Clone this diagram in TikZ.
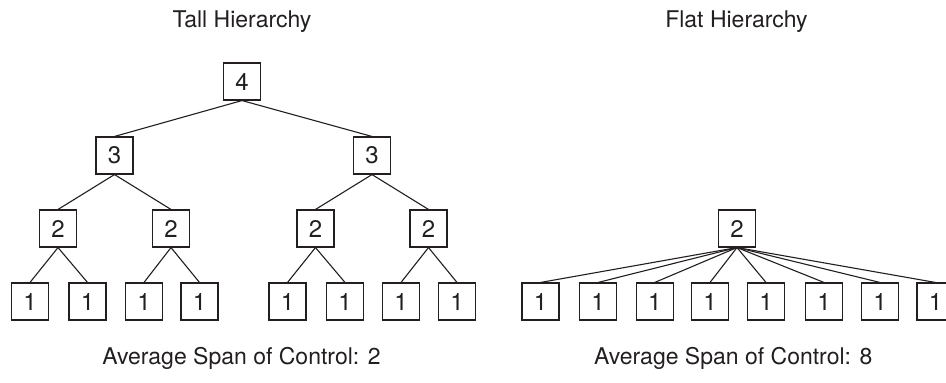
\documentclass[tikz,border=0pt]{standalone}
\usepackage{fontspec}
\setmainfont{TeX Gyre Heros}
\definecolor{ink}{HTML}{231F20}
\begin{document}
\begin{tikzpicture}[x=1pt,y=-1pt,
  box/.style={draw=ink,line width=1.1pt,minimum width=37pt,minimum height=37pt,inner sep=0pt,text=ink,font=\fontsize{24}{26}\selectfont},
  lbl/.style={anchor=base,text=ink,inner sep=0pt,font=\fontsize{23}{26}\selectfont},
  edge/.style={draw=ink,line width=1.1pt}]
\clip (0,0) rectangle (946,383);
\fill[white] (0,0) rectangle (946,383);
% titles
\node[lbl] (t1) at (242,27) {Tall Hierarchy};
\node[lbl] (t2) at (736.5,27) {Flat Hierarchy};
\node[lbl] (b1) at (241.5,364) {Average Span of Control: 2};
\node[lbl] (b2) at (733.3,364) {Average Span of Control: 8};
% tall
\node[box] (L4) at (242,81.5) {4};
\node[box] (L3a) at (114.5,155.5) {3};
\node[box] (L3b) at (372,155.5) {3};
\node[box] (L2a) at (58,228.5) {2};
\node[box] (L2b) at (171,228.5) {2};
\node[box] (L2c) at (315.5,228.5) {2};
\node[box] (L2d) at (428.5,228.5) {2};
\foreach \n/\x in {a/30,b/87.5,c/144,d/199.5,e/287.5,f/345,g/401,h/457}
  \node[box] (L1\n) at (\x,301.5) {1};
\draw[edge] (L4.south) -- (L3a.north);
\draw[edge] (L4.south) -- (L3b.north);
\draw[edge] (L3a.south) -- (L2a.north);
\draw[edge] (L3a.south) -- (L2b.north);
\draw[edge] (L3b.south) -- (L2c.north);
\draw[edge] (L3b.south) -- (L2d.north);
\draw[edge] (L2a.south) -- (L1a.north);
\draw[edge] (L2a.south) -- (L1b.north);
\draw[edge] (L2b.south) -- (L1c.north);
\draw[edge] (L2b.south) -- (L1d.north);
\draw[edge] (L2c.south) -- (L1e.north);
\draw[edge] (L2c.south) -- (L1f.north);
\draw[edge] (L2d.south) -- (L1g.north);
\draw[edge] (L2d.south) -- (L1h.north);
% flat
\node[box] (F2) at (737,228.5) {2};
\foreach \n/\x in {a/540.5,b/598,c/654.7,d/710,e/766,f/824,g/880,h/935.5}{
  \node[box] (F1\n) at (\x,301.5) {1};
  \draw[edge] (F2.south) -- (F1\n.north);
}
\end{tikzpicture}
\end{document}
